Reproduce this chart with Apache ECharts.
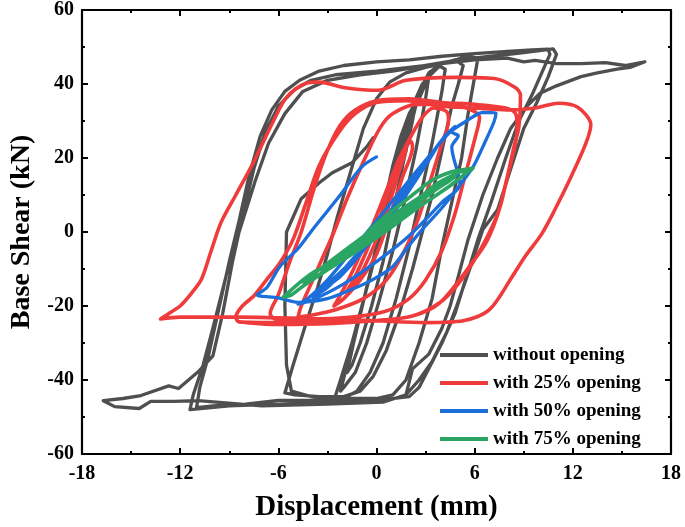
<!DOCTYPE html>
<html>
<head>
<meta charset="utf-8">
<script src="https://cdn.jsdelivr.net/npm/echarts@6/dist/echarts.min.js"></script>
<style>html,body{margin:0;padding:0;background:#fff}#c{width:685px;height:527px}</style>
</head>
<body>
<div id="c"></div>
<script>
var seriesNames = ['without opening', 'with 25% opening', 'with 50% opening', 'with 75% opening'];
var xTicks = [-18, -12, -6, 0, 6, 12, 18];
var yTicks = [-60, -40, -20, 0, 20, 40, 60];

var withoutOpening = [
[0,0],[0.5,8],[1,18],[1.5,26],[2,32],[2.4,35],[2.2,30],[1.6,18],[1,5],[0.4,-8],[-0.3,-20],[-1,-30],[-1.5,-36],[-1.8,-38],[-1.4,-30],[-0.6,-15],[0.2,0],
[0.8,12],[1.6,25],[2.3,35],[2.8,40],[3.2,42],[3,36],[2.4,22],[1.7,8],[1,-5],[0.2,-18],[-0.6,-30],[-1.3,-38],[-2,-42],[-2.2,-43],[-1.8,-36],[-1.2,-25],[-0.4,-12],[0.4,2],
[1.2,16],[2,30],[2.6,38],[3.2,43],[3.8,45],[4.2,44],[4,38],[3.4,24],[2.7,10],[2,-4],[1.2,-18],[0.4,-30],[-0.4,-38],[-1.2,-43],[-2,-45],[-2.6,-45.5],[-2.2,-40],[-1.5,-30],[-0.7,-17],[0,-5],[0.8,8],
[1.6,20],[2.4,34],[3.2,42],[4,45.5],[4.8,46.5],[5.3,45],[5,40],[4.6,34],[4,22],[3.4,10],[2.8,0],[2.2,-10],[1.4,-22],[0.6,-32],[-0.2,-39],[-1,-43],[-2,-44.5],[-3.5,-44.5],[-5,-44],[-5.6,-43.5],[-5.1,-36],[-4.4,-26],[-3.6,-15],[-3,-6],[-2.4,4],[-1.6,16],[-0.8,28],[0,36],[0.8,40.5],[1.8,43],[3,44.5],[4.5,46],[5.5,47.5],[6.2,47],
[6,42],[5.6,32],[5.2,20],[4.6,8],[4,-4],[3.4,-18],[2.6,-30],[1.8,-40],[1,-44],[0,-45],[-2,-45],[-4,-45.5],[-6,-45.5],[-8,-46.5],[-10,-47],[-11,-47.5],
[-10.8,-42],[-10.3,-34],[-9.7,-22],[-9,-8],[-8.4,3],[-7.8,15],[-7.1,26],[-6.4,33],[-5.6,38],[-4.7,41],[-3.5,43.5],[-2,45],[0,46],[2,46.5],[4,47.5],[6,48.2],[8,48.8],[9.5,49.2],[10.5,49.4],[10.6,48],
[10.2,44],[9.5,37],[8.7,30],[7.9,20],[7,8],[6.2,-2],[5.5,-12],[4.8,-22],[4,-30],[3.3,-36],[2.6,-42],[2,-44.5],[0,-45.5],[-3,-46],[-6,-46.5],[-9,-47],[-11.4,-48],
[-11.2,-44],[-10.6,-36],[-10,-26],[-9.2,-12],[-8.4,0],[-7.4,14],[-6.6,24],[-5.6,32],[-4.5,38],[-3,41],[-1,42.5],[1,43.5],[3,45],[5,46.5],[7,47.5],[9,48.5],[10.8,49.5],[11,48],
[10.5,42],[9.8,35],[9,28],[8.2,17],[7.4,6],[6.5,0.7],[5.7,-10],[4.9,-20],[4.3,-27],[3.4,-35],[2.6,-40],[1.8,-44],[0.4,-46],[-3,-46.5],[-7,-47],[-10.9,-45.6],[-12.4,-45.8],[-13.8,-45.8],[-14.5,-47.7],[-16,-47.2],[-16.7,-45.6],
[-15.5,-45],[-14.4,-44.2],[-12.7,-41.6],[-12.1,-42.3],[-10.9,-37.8],[-10,-33.5],[-9.4,-22],[-8.8,-8],[-8.2,4],[-7.5,17],[-6.8,27],[-6,34],[-5,38.5],[-4,41],[-2.5,42.5],[0,43.5],[2,44.5],[4,45.5],[6,46.5],[8,47],[9,46],[9.7,46.4],[11,45.5],[12.5,45.5],[14,45.8],[15.2,45],[16.4,46],
[15.5,44.5],[14.7,44],[13.5,43],[12.5,42],[11,39.5],[10,37.5],[9.2,34],[8.2,28],[7.4,20],[6.5,10],[5.6,-2],[5,-12],[4.5,-20],[4,-26],[3.2,-33],[2.2,-37],[1.8,-44],[0.4,-46],[-2,-45.5],[-4,-44.5],[-5.2,-43],[-5.5,-36],[-5.6,-20],[-5.5,0],[-4.6,9],[-3.5,13.3],[-2.7,16],[-1.5,18.7],[-0.6,23],[-0.2,25.5]
];

var opening25 = [
[0,0],[0.5,8],[1,15],[1.5,20],[1.8,22],[1.5,18],[0.8,8],[0,-2],[-0.8,-10],[-1.5,-15],[-1.8,-16],[-1.3,-12],[-0.5,-4],[0.3,5],
[1,14],[1.6,21],[2.1,24.5],[2.2,23],[1.6,15],[0.8,4],[0,-6],[-1,-13],[-2,-18],[-2.6,-20],[-2.2,-17],[-1.4,-10],[-0.5,-1],[0.5,10],[1.3,19],[2,25],
[2.8,31],[3.5,33.5],[4.3,32.5],[4.4,30],[4,24],[3.3,14],[2.5,3],[1.6,-6],[0.6,-13],[-0.8,-18],[-2.5,-21],[-4,-22.5],[-4.8,-23],[-4.6,-20],[-4,-14],[-3.4,-8],[-2.6,0],[-1.8,9],[-0.8,19],[0.2,28],[1,32],[2.5,34.5],[4,34.5],[5.5,33.5],[6.3,31],
[6,25],[5.4,15],[4.8,5],[4,-5],[3,-13],[2,-18],[0.5,-21.5],[-1.5,-23],[-4,-23.5],[-6.2,-23.5],[-6.5,-22],
[-6,-17],[-5.3,-8],[-4.6,0],[-3.8,12],[-3,22],[-2.2,29],[-1.3,33],[0,35.5],[2,36],[4,35],[6,34.5],[7.9,33.5],[8.5,32],[8.6,28.4],[8.5,24],[8,15],[7.5,6],[6.8,-1],[5.9,-8.2],[5,-14],[3.9,-19],[2.2,-22.7],[0,-24],[-3,-24.5],[-6,-24.5],[-8.4,-24.3],[-8.6,-23],
[-8.2,-20],[-7.5,-17.3],[-6.7,-12.8],[-5.9,-8.3],[-5.1,-2],[-4.3,8],[-3.5,18],[-2.3,27],[-1.3,32],[0,35],[1.8,35.5],[4,34],[6,33.5],[8,33],[9.7,33.5],[11.1,34.8],[12.3,33.7],[13.1,29],[12.8,24],[11.9,15],[10.9,6],[10.1,-0.5],[9.1,-6.5],[8.3,-12],[6.9,-21],[5.3,-24],[3,-24.5],[0,-24],[-3,-23.5],[-6,-23.2],[-8.3,-23],[-10,-23],[-12,-23],[-13.2,-23.5],
[-12.5,-21.5],[-12,-20],[-11.3,-16.5],[-10.7,-12.8],[-10.1,-5],[-9.5,2.6],[-8.6,10],[-7.5,19],[-6.3,30],[-5.5,36.4],[-4.3,40.2],[-3.5,40.5],[-1.9,39],[0.1,38.3],[1.8,41],[4.8,41.8],[7.2,41.5],[8.5,39],[8.8,37],[8.7,28.4],[8.4,23],[8,15],[7.5,6],[6.8,-2],[5.9,-8],[3.9,-19],[2.2,-22.7],[-0.2,-24],[-3,-24.8],[-6,-25],[-8,-24.5]
];

var opening50 = [
[0,0],[1,6],[1.8,10],[1.2,7],[0,1],[-1,-5],[-1.8,-9],[-1.2,-6],[0,0],
[1,6],[2.2,13],[2.8,17],[2.2,13],[1,5],[-0.5,-3],[-2,-11],[-2.8,-14],[-2.2,-12],[-1,-6],[0.5,3],
[2,12],[3.2,20],[3.7,23],[3,18],[1.5,8],[0,-1],[-2,-10],[-3.5,-16],[-3.9,-17.5],[-3,-15],[-1.5,-8],[0,0],
[1.5,10],[3,19],[4.2,26],[4.8,28.5],[4.6,27],[5,26],[4.6,23],[5.1,13],[4,8],[2,-1],[0,-8],[-2,-14],[-4,-18.5],[-4.8,-19.5],[-4.2,-18],[-3,-13],[-1.5,-5],[0,3],[2,14],[3.5,22],[4.5,27],
[5.5,30],[6.5,32.3],[7.3,32.2],[7.2,30],[6.6,24],[5.9,17.6],[4.8,11],[3.9,6],[2.8,0.7],[1.8,-4.7],[1,-9.3],[-0.2,-12.8],[-1.5,-15.5],[-3,-18],[-4.8,-19],[-6,-17.8],[-7.3,-17],[-6.7,-15],[-5.9,-9.3],[-4.8,-4.5],[-3.9,0.7],[-2.3,9.5],[-0.9,17.6],[0,20.3]
];

var opening75 = [
[0,0],[1,3],[2,6.5],[2.2,7],[1.5,5],[0,1],[-1,-3],[-2,-6.5],[-2.2,-7],[-1.5,-5],[0,-0.5],[1.5,5],[3,10],[3.4,11],[2.5,8.5],[1,4],[-1,-2.5],[-2.5,-8],[-3.3,-10.5],[-2.5,-8.5],[-1,-4],[0.5,1],[2,6],[3.5,11],[4.5,14],[4.8,15],[4,13],[2.5,9],[0.5,3],[-1.5,-3.5],[-3,-8.5],[-4.2,-12.5],[-4.5,-13.5],[-3.5,-11.5],[-1.5,-6],[0.5,0],[2.5,6.5],[4.5,12.5],[5.5,16],[5.9,17.3],[5.6,17],[4.6,16.3],[3.4,14],[1.6,7.9],[-0.2,1.5],[-2.1,-7.4],[-3.9,-11],[-5.7,-17.6],[-5.2,-17],[-4.6,-15],[-3.4,-11.4],[-1.6,-6],[-0.2,-0.7],[1.6,4.5],[3.4,12.2],[5,16],[5.8,16.8]
];

var serif = "'Liberation Serif','Times New Roman',Times,serif";
var colors = ['#4f4f4f', '#ef3b3b', '#1c6edb', '#2ba563'];
var datasets = [withoutOpening, opening25, opening50, opening75];
var smoothVals = [false, 0.3, 0.3, 0.3];
var widths = [3.3, 3.6, 3.3, 3.6];

function axisBase(extra) {
  var o = {
    type: 'value',
    axisLine: { show: true, onZero: false, lineStyle: { color: '#000', width: 2.2 } },
    axisTick: { show: true, inside: true, length: 6, lineStyle: { color: '#000', width: 2 } },
    minorTick: { show: true, splitNumber: 2, length: 3, lineStyle: { color: '#000', width: 2 } },
    splitLine: { show: false },
    axisLabel: { show: true, color: '#000', fontFamily: serif, fontWeight: 'bold', fontSize: 20, margin: 10 }
  };
  for (var k in extra) o[k] = extra[k];
  return o;
}

var chart = echarts.init(document.getElementById('c'), null, { renderer: 'canvas' });
chart.setOption({
  animation: false,
  backgroundColor: '#fff',
  grid: { left: 75, right: 14, top: 10, bottom: 72, containLabel: false },
  xAxis: [
    axisBase({ min: xTicks[0], max: xTicks[xTicks.length - 1], interval: 6, position: 'bottom',
      name: 'Displacement (mm)', nameLocation: 'middle', nameGap: 39,
      nameTextStyle: { fontFamily: serif, fontWeight: 'bold', fontSize: 29, color: '#000' } }),
    axisBase({ min: xTicks[0], max: xTicks[xTicks.length - 1], interval: 6, position: 'top',
      axisLabel: { show: false } })
  ],
  yAxis: [
    axisBase({ min: yTicks[0], max: yTicks[yTicks.length - 1], interval: 20, position: 'left',
      name: 'Base Shear (kN)', nameLocation: 'middle', nameGap: 46, nameRotate: 90,
      axisLabel: { show: true, color: '#000', fontFamily: serif, fontWeight: 'bold', fontSize: 20, margin: 8 },
      nameTextStyle: { fontFamily: serif, fontWeight: 'bold', fontSize: 28, color: '#000' } }),
    axisBase({ min: yTicks[0], max: yTicks[yTicks.length - 1], interval: 20, position: 'right',
      axisLabel: { show: false } })
  ],
  legend: {
    data: seriesNames,
    orient: 'vertical',
    left: 435, top: 340,
    itemWidth: 48, itemHeight: 4, itemGap: 8,
    icon: 'rect',
    textStyle: { fontFamily: serif, fontWeight: 'bold', fontSize: 19, color: '#000', lineHeight: 20 }
  },
  series: seriesNames.map(function (n, i) {
    return {
      name: n, type: 'line', xAxisIndex: 0, yAxisIndex: 0,
      data: datasets[i], showSymbol: false, symbol: 'none',
      smooth: smoothVals[i],
      lineStyle: { color: colors[i], width: widths[i], join: 'round', cap: 'round' },
      itemStyle: { color: colors[i] },
      z: 2 + i
    };
  })
});
</script>
</body>
</html>
